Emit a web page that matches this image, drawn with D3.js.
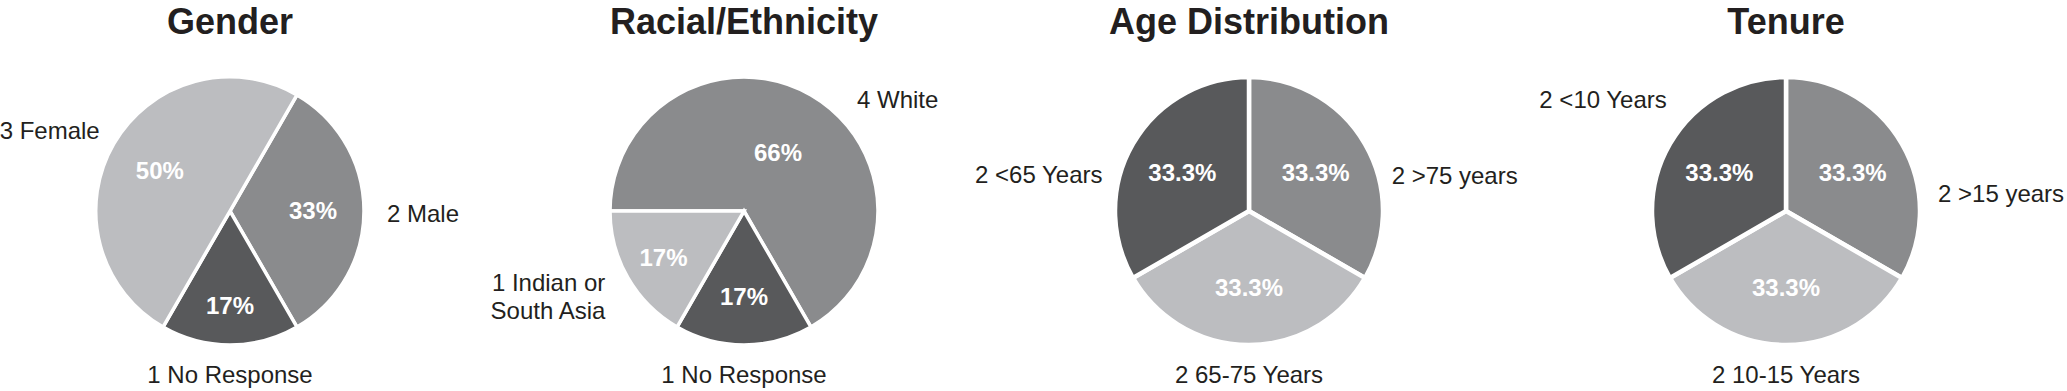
<!DOCTYPE html>
<html>
<head>
<meta charset="utf-8">
<script src="https://cdn.jsdelivr.net/npm/d3@7"></script>
<style>
  body { margin: 0; background: #fff; }
  svg text { font-family: "Liberation Sans", Arial, Helvetica, sans-serif; }
</style>
</head>
<body>
<div id="viz"></div>
<script>
// ---- data ----
var titles = ["Gender", "Racial/Ethnicity", "Age Distribution", "Tenure"];

var genderCats = ["Male", "No Response", "Female"];
var genderCounts = [2, 1, 3];
var genderPct = ["33%", "17%", "50%"];

var raceCats = ["White", "No Response", "Indian or|South Asia"];
var raceCounts = [4, 1, 1];
var racePct = ["66%", "17%", "17%"];

var ageCats = [">75 years", "65-75 Years", "<65 Years"];
var ageCounts = [2, 2, 2];
var agePct = ["33.3%", "33.3%", "33.3%"];

var tenureCats = [">15 years", "10-15 Years", "<10 Years"];
var tenureCounts = [2, 2, 2];
var tenurePct = ["33.3%", "33.3%", "33.3%"];

// ---- layout ----
var width = 2067, height = 391
var radius = 134
var cy = 211
var light = "#bcbdc0", mid = "#8a8b8d", dark = "#58595b"

// outer: [angle deg clockwise from top, distance, anchor]; pctDist: distance of % label from centre
var charts = [
  {title: titles[0], cats: genderCats, counts: genderCounts, pct: genderPct, cx: 230, start: 30,
   colors: [mid, dark, light], stroke: 3.5, pctDist: [83, 95, 81],
   outer: [[91, 157, "start"], [180, 164, "middle"], [301.6, 153, "end"]]},
  {title: titles[1], cats: raceCats, counts: raceCounts, pct: racePct, cx: 744, start: -90,
   colors: [mid, dark, light], stroke: 3.5, pctDist: [68, 86, 93],
   outer: [[45.3, 159, "start"], [180, 164, "middle"], [238.3, 163, "end"]]},
  {title: titles[2], cats: ageCats, counts: ageCounts, pct: agePct, cx: 1249, start: 0,
   colors: [mid, light, dark], stroke: 4.5, pctDist: [77, 77, 77],
   outer: [[76, 147, "start"], [180, 164, "middle"], [284, 151, "end"]]},
  {title: titles[3], cats: tenureCats, counts: tenureCounts, pct: tenurePct, cx: 1786, start: 0,
   colors: [mid, light, dark], stroke: 4.5, pctDist: [77, 77, 77],
   outer: [[83.6, 153, "start"], [180, 164, "middle"], [313, 163, "end"]]}
];

var svg = d3.select("#viz").append("svg")
    .attr("width", width)
    .attr("height", height);

var arc = d3.arc().innerRadius(0).outerRadius(radius)
var rad = Math.PI / 180

function polar(angle, dist) {
  return [Math.sin(angle) * dist, -Math.cos(angle) * dist]
}

charts.forEach(function(c) {
  var g = svg.append("g").attr("transform", "translate(" + c.cx + "," + cy + ")")

  svg.append("text")
      .attr("x", c.cx)
      .attr("y", 34)
      .attr("text-anchor", "middle")
      .attr("font-size", "36px")
      .attr("font-weight", "bold")
      .attr("fill", "#231f20")
      .text(c.title)

  var pie = d3.pie().sort(null)
      .startAngle(c.start * rad)
      .endAngle(c.start * rad + 2 * Math.PI)
  var arcs = pie(c.counts)

  g.selectAll("path.slice")
    .data(arcs)
    .enter().append("path")
      .attr("class", "slice")
      .attr("d", arc)
      .attr("fill", function(d, i) { return c.colors[i] })
      .attr("stroke", "#fff")
      .attr("stroke-width", c.stroke)
      .attr("stroke-linejoin", "miter")

  g.selectAll("text.pct")
    .data(arcs)
    .enter().append("text")
      .attr("class", "pct")
      .attr("transform", function(d, i) {
        return "translate(" + polar((d.startAngle + d.endAngle) / 2, c.pctDist[i]) + ")"
      })
      .attr("dy", "0.35em")
      .attr("text-anchor", "middle")
      .attr("font-size", "24px")
      .attr("font-weight", "bold")
      .attr("fill", "#fff")
      .text(function(d, i) { return c.pct[i] })

  // outside category labels
  arcs.forEach(function(d, i) {
    var o = c.outer[i]
    var p = polar(o[0] * rad, o[1])
    var lines = (c.counts[i] + " " + c.cats[i]).split("|")
    var t = g.append("text")
        .attr("text-anchor", o[2])
        .attr("font-size", "24px")
        .attr("fill", "#231f20")
    lines.forEach(function(line, j) {
      t.append("tspan")
          .attr("x", p[0])
          .attr("y", p[1])
          .attr("dy", (0.35 + (j - (lines.length - 1) / 2) * 1.2) + "em")
          .text(line)
    })
  })
})
</script>
</body>
</html>
